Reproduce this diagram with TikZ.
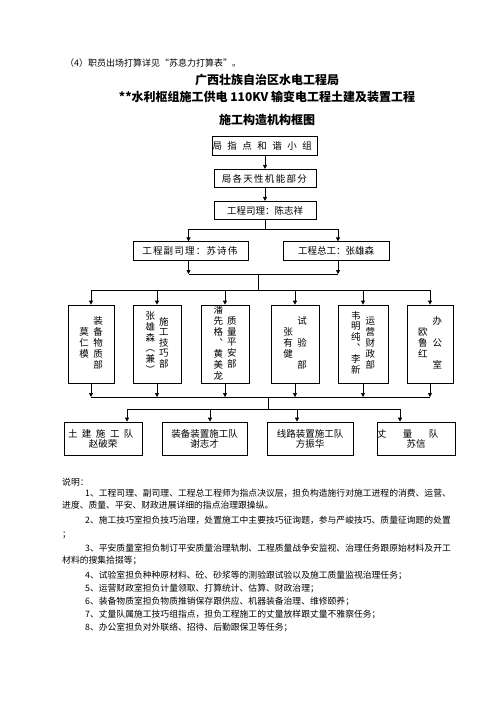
\documentclass[tikz,border=0pt]{standalone}
\usepackage{fontspec}
\setmainfont{Noto Sans CJK SC}
\usetikzlibrary{arrows.meta,positioning}

% letter-spaced text
\makeatletter
\newcommand\spreadtext[2]{\def\st@gap{#1}\st@loop#2\relax}
\def\st@loop#1{\ifx\relax#1\hspace{-\st@gap}\else#1\hspace{\st@gap}\expandafter\st@loop\fi}
\makeatother
\newcommand\vcol[1]{\begin{tabular}[c]{@{}c@{}}#1\end{tabular}}

\begin{document}
\begin{tikzpicture}[
    x=1pt, y=-1pt,
    every node/.style={font=\fontsize{9.5}{10}\selectfont},
    box/.style={draw, line width=0.7pt, inner sep=0pt, minimum width=102pt, minimum height=18.5pt},
    deptbox/.style={draw, line width=0.7pt, inner sep=0pt, minimum width=47pt, minimum height=78pt},
    team/.style={draw, line width=0.7pt, inner sep=0pt, minimum height=33pt, align=center},
    title/.style={font=\fontsize{12}{14}\selectfont\bfseries},
    note/.style={anchor=west, inner sep=0pt, font=\fontsize{8.8}{10}\selectfont},
    link/.style={line width=0.7pt},
    arr/.style={line width=0.7pt, -{Triangle[length=4pt,width=4pt]}}
]
\useasboundingbox[fill=white] (0,0) rectangle (500,707);
\renewcommand\arraystretch{1.0}

\node[note, font=\fontsize{9}{10}\selectfont] (memo) at (65,63) {（4）职员出场打算详见“苏息力打算表”。};
\node[title] (head1) at (267,80) {广西壮族自治区水电工程局};
\node[title] (head2) at (267,97) {**水利枢组施工供电 110KV 输变电工程土建及装置工程};
\node[title] (head3) at (267,120) {施工构造机构框图};

% top chain
\node[box] (lead) at (265,146) {\spreadtext{5.5pt}{局指点和谐小组}};
\node[box] (office0) at (265,178.5) {\spreadtext{1.3pt}{局各天性机能部分}};
\node[box] (pm) at (265,210.5) {工程司理：陈志祥};
\node[box, minimum width=115pt] (dpm) at (190.5,251) {\spreadtext{1.2pt}{工程副司理：苏诗伟}};
\node[box, minimum width=106pt] (chief) at (336,251) {工程总工：张雄森};

\coordinate (split1) at (265,229);
\coordinate (join1) at (258,274);
\coordinate (split2) at (258,290);

\draw[arr] (lead) -- (office0);
\draw[arr] (office0) -- (pm);
\draw[link] (pm.south) -- (split1);
\draw[arr] (split1) -| ([xshift=-2pt]dpm.north);
\draw[arr] (split1) -| ([xshift=2pt]chief.north);
\draw[arr] ([xshift=-2pt]dpm.south) -- ([xshift=-2pt]dpm.south |- join1);
\draw[arr] ([xshift=2pt]chief.south) -- ([xshift=2pt]chief.south |- join1);
\draw[link] ([xshift=-2pt]dpm.south |- join1) -- ([xshift=2pt]chief.south |- join1);
\draw[link] (join1) -- (split2);

% departments
\node[deptbox, minimum width=46pt] (equip) at (91,344)
  {\vcol{莫\\仁\\模}\hspace{4.5pt}\vcol{装\\备\\物\\质\\部}};
\node[deptbox, minimum width=48pt] (tech) at (157,344)
  {\vcol{张\\雄\\森\\︵\\兼\\︶}\hspace{4pt}\vcol{施\\工\\技\\巧\\部}};
\node[deptbox, minimum width=48pt] (safety) at (225,344)
  {\vcol{潘\\先\\格\\︑\\黄\\美\\龙}\hspace{4pt}\vcol{质\\量\\平\\安\\部}};
\node[deptbox, minimum width=48pt] (test) at (295,344)
  {\vcol{张\\有\\健}\hspace{4.5pt}\vcol{试\\[11pt]验\\[11pt]部}};
\node[deptbox, minimum width=50pt] (finance) at (363,344)
  {\vcol{韦\\明\\纯\\︑\\李\\新}\hspace{5pt}\vcol{运\\营\\财\\政\\部}};
\node[deptbox, minimum width=46pt] (admin) at (430,344)
  {\vcol{欧\\鲁\\红}\hspace{5pt}\vcol{办\\[11pt]公\\[11pt]室}};

\foreach \d in {equip,tech,safety,test,finance,admin}
  \draw[arr] (split2) -| (\d.north);

\coordinate (join2) at (268,397);
\coordinate (split3) at (268,409);

\foreach \d in {equip,tech,safety,test,finance,admin}
  \draw[arr] (\d.south) -- (\d.south |- join2);
\draw[link] (equip.south |- join2) -- (admin.south |- join2);
\draw[link] (join2) -- (split3);

% construction teams
\node[team, minimum width=78pt] (civil) at (103,438.5) {\spreadtext{4.5pt}{土建施工队}\\赵破荣};
\node[team, minimum width=85pt] (install) at (204.5,438.5) {装备装置施工队\\谢志才};
\node[team, minimum width=86pt] (wire) at (310,438.5) {线路装置施工队\\方振华};
\node[team, minimum width=78pt] (survey) at (416,438.5) {\spreadtext{16.5pt}{丈量队}\\苏信};

\draw[arr] (split3) -| ([xshift=24pt]civil.north);
\draw[arr] (split3) -| ([xshift=5.5pt]install.north);
\draw[arr] (split3) -| ([xshift=-13pt]wire.north);
\draw[arr] (split3) -| ([xshift=-16pt]survey.north);

% notes
\node[note] (n0) at (62,482) {说明：};
\node[note] (n1) at (85,493.5) {1、工程司理、副司理、工程总工程师为指点决议层，担负构造施行对施工进程的消费、运营、};
\node[note] (n1b) at (62,505.5) {进度、质量、平安、财政进展详细的指点治理跟操纵。};
\node[note] (n2) at (85,520) {2、施工技巧室担负技巧治理，处置施工中主要技巧征询题，参与严峻技巧、质量征询题的处置};
\node[note] (n2b) at (62,535) {；};
\node[note] (n3) at (85,548) {3、平安质量室担负制订平安质量治理轨制、工程质量战争安监视、治理任务跟原始材料及开工};
\node[note] (n3b) at (62,560.5) {材料的搜集拾掇等；};
\node[note] (n4) at (85,575) {4、试验室担负种种原材料、砼、砂浆等的测验跟试验以及施工质量监视治理任务；};
\node[note] (n5) at (85,588) {5、运营财政室担负计量领取、打算统计、估算、财政治理；};
\node[note] (n6) at (85,601.5) {6、装备物质室担负物质推销保存跟供应、机器装备治理、维修颐养；};
\node[note] (n7) at (85,614) {7、丈量队属施工技巧组指点，担负工程施工的丈量放样跟丈量不雅察任务；};
\node[note] (n8) at (85,627) {8、办公室担负对外联络、招待、后勤跟保卫等任务；};
\end{tikzpicture}
\end{document}
